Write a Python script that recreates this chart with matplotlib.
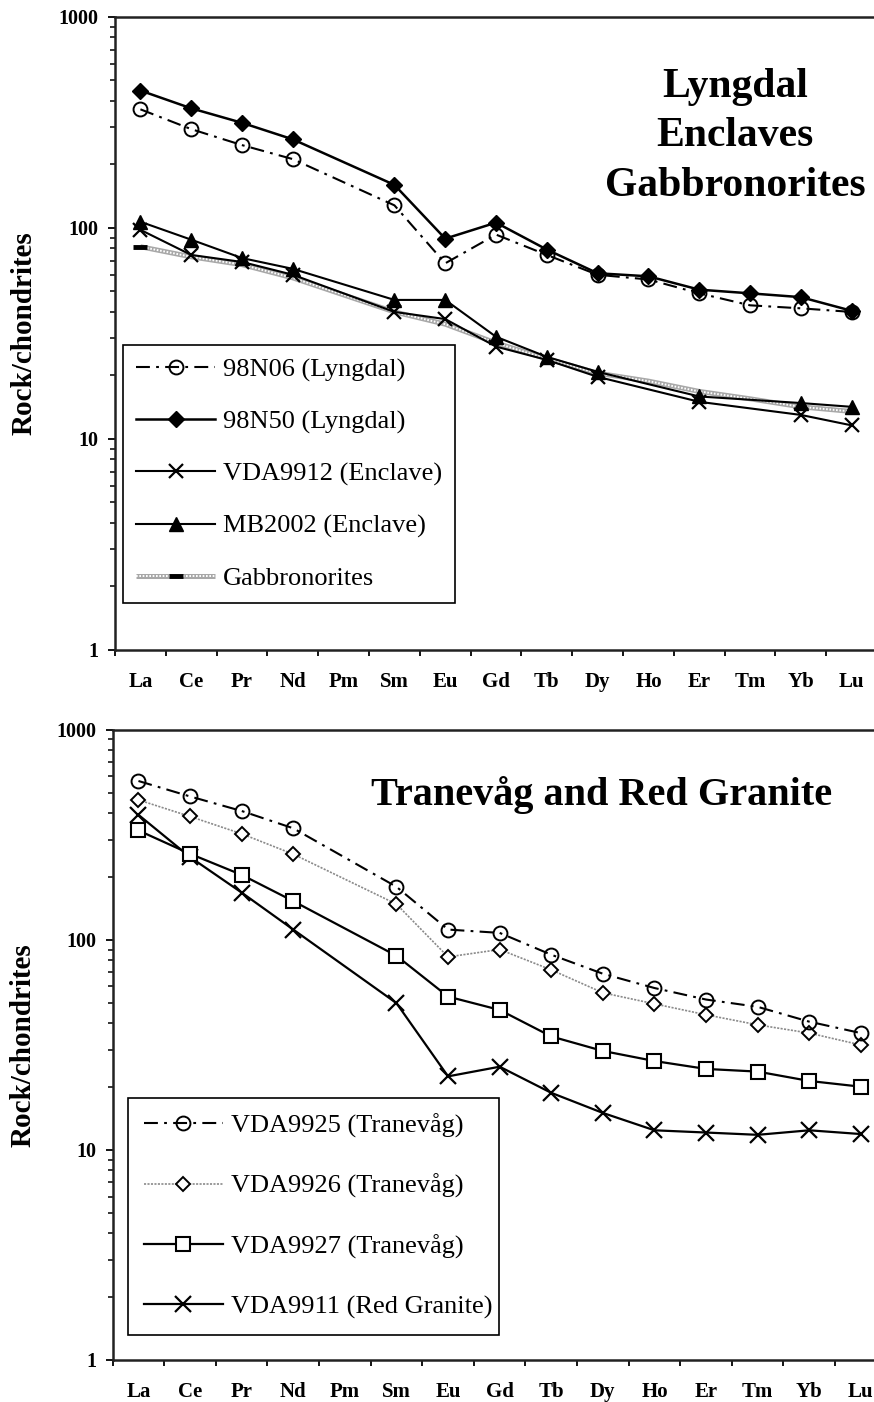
import numpy as np
import matplotlib
matplotlib.use("Agg")
import matplotlib.pyplot as plt
from matplotlib.ticker import LogLocator, NullFormatter

plt.rcParams["font.family"] = ["Liberation Serif", "DejaVu Serif"]
plt.rcParams["lines.scale_dashes"] = False

# Rare earth elements, chondrite-normalised
ree = ["La", "Ce", "Pr", "Nd", "Pm", "Sm", "Eu", "Gd", "Tb", "Dy", "Ho", "Er", "Tm", "Yb", "Lu"]

# Lyngdal / enclaves / gabbronorites
n98n06 = [365, 294, 247, 212, None, 128, 68, 93, 74.5, 60, 57, 49, 43, 41.6, 40]
n98n50 = [448, 369, 315, 263, None, 160, 89, 106, 79, 61, 59, 51, 49, 47, 40.5]
vda9912 = [98, 74.5, 69, 60, None, 40, 37, 27.4, 23.7, 19.7, None, 15, None, 13, 11.6]
mb2002 = [107, 88, 72, 64, None, 45.6, 45.6, 30.5, 24.5, 20.8, None, 15.9, None, 14.8, 14.2]
gabbro = [81.5, 73, 67, 58, None, 40, 35, 28.5, 24, 20.5, 18.8, 16.8, 15.5, 14.2, 13.5]

# Tranevåg and Red Granite
vda9925 = [571, 482, 411, 340, None, 179, 112, 108, 85, 69, 59, 52, 48, 40.8, 36]
vda9926 = [464, 387, 320, 256, None, 148, 83, 90, 72, 56, 49.6, 44, 39.4, 36, 31.6]
vda9927 = [332, 257, 204, 153, None, 84, 53.7, 46.4, 34.7, 29.6, 26.5, 24.3, 23.6, 21.3, 20]
vda9911 = [394, 248, 168, 112, None, 50, 22.4, 24.9, 18.7, 15, 12.4, 12.1, 11.8, 12.4, 11.9]


def xy(vals):
    # skip elements without analyses (Pm etc.), the line joins across them
    pts = [(i, v) for i, v in enumerate(vals) if v is not None]
    return [p[0] for p in pts], [p[1] for p in pts]


def setup(ax, lab_x):
    ax.set_yscale("log")
    ax.set_ylim(1, 1000)
    ax.set_xlim(-0.5, 14.5)
    ax.set_yticks([1, 10, 100, 1000])
    ax.set_yticklabels(["1", "10", "100", "1000"], fontweight="bold", fontsize=14.5)
    ax.yaxis.set_minor_locator(LogLocator(base=10, subs=np.arange(2, 10)))
    ax.yaxis.set_minor_formatter(NullFormatter())
    ax.set_xticks(np.arange(-0.5, 15, 1))
    ax.set_xticklabels([])
    ax.set_xticks(range(len(ree)), minor=True)
    ax.set_xticklabels(ree, minor=True, fontweight="bold", fontsize=15)
    ax.tick_params(axis="x", which="minor", length=0, pad=16)
    ax.tick_params(axis="x", which="major", direction="out", length=4.5, width=1.3)
    ax.tick_params(axis="y", which="major", direction="out", length=5, width=1.3, pad=7)
    ax.tick_params(axis="y", which="minor", direction="out", length=3.5, width=1.1)
    ax.spines["right"].set_visible(False)
    for s in ["top", "left", "bottom"]:
        ax.spines[s].set_linewidth(1.8)
        ax.spines[s].set_color("#222222")
    ax.set_ylabel("Rock/chondrites", fontweight="bold", fontsize=21)
    ax.yaxis.set_label_coords(lab_x, 0.5)


fig = plt.figure(figsize=(8.74, 14.02), dpi=100)
ax1 = fig.add_axes([0.1316, 0.5364, 0.8719, 0.4515])
ax2 = fig.add_axes([0.1289, 0.0300, 0.8856, 0.4494])
setup(ax1, -0.102)
setup(ax2, -0.098)

dashdot = (0, (10, 4.5, 2, 4.5))

# ---- top panel ----
gx, gy = xy(gabbro)
g_base, = ax1.plot(gx, gy, color="#a8a8a8", lw=3.6, solid_capstyle="butt", zorder=2)
g_top, = ax1.plot(gx, gy, color="white", lw=1.4, ls=(0, (1.2, 1.2)), zorder=2.1)
g_mark, = ax1.plot(gx, gy, ls="none", marker="_", ms=10, mew=3.5, color="black",
                   markevery=[0], zorder=2.2)

x, y = xy(vda9912)
h3, = ax1.plot(x, y, color="black", lw=1.5, marker="x", ms=10, mew=1.6, zorder=3)
x, y = xy(mb2002)
h4, = ax1.plot(x, y, color="black", lw=1.5, marker="^", ms=10, zorder=3)
x, y = xy(n98n06)
h1, = ax1.plot(x, y, color="black", lw=1.5, ls=dashdot, marker="o", ms=10,
               mfc="none", mew=1.4, zorder=4)
x, y = xy(n98n50)
h2, = ax1.plot(x, y, color="black", lw=1.8, marker="D", ms=8.5, zorder=4)

ax1.text(0.8136, 0.92, "Lyngdal\nEnclaves\nGabbronorites", transform=ax1.transAxes,
         ha="center", va="top", multialignment="center", fontsize=30,
         fontweight="bold", linespacing=1.4)

leg1 = ax1.legend([h1, h2, h3, h4, (g_base, g_top, g_mark)],
                  ["98N06 (Lyngdal)", "98N50 (Lyngdal)", "VDA9912 (Enclave)",
                   "MB2002 (Enclave)", "Gabbronorites"],
                  loc="lower left", bbox_to_anchor=(0.0105, 0.074, 0.4357, 0.4),
                  mode="expand", borderaxespad=0, fontsize=19, fancybox=False,
                  edgecolor="black", framealpha=1, handlelength=3.0,
                  handletextpad=0.3, labelspacing=1.07, borderpad=0.5)
leg1.get_frame().set_linewidth(1.2)

# ---- bottom panel ----
x, y = xy(vda9911)
k4, = ax2.plot(x, y, color="black", lw=1.6, marker="x", ms=11, mew=1.6, zorder=3)
x, y = xy(vda9927)
k3, = ax2.plot(x, y, color="black", lw=1.6, marker="s", ms=10, mfc="white", mew=1.5, zorder=3)
x, y = xy(vda9926)
k2, = ax2.plot(x, y, color="#8a8a8a", lw=1.2, ls=(0, (1.5, 1)), marker="D", ms=7,
               mfc="white", mec="black", mew=1.4, zorder=4)
x, y = xy(vda9925)
k1, = ax2.plot(x, y, color="black", lw=1.5, ls=dashdot, marker="o", ms=10,
               mfc="none", mew=1.4, zorder=5)

ax2.text(0.6315, 0.881, "Tranevåg and Red Granite", transform=ax2.transAxes,
         ha="center", va="baseline", fontsize=29, fontweight="bold")

leg2 = ax2.legend([k1, k2, k3, k4],
                  ["VDA9925 (Tranevåg)", "VDA9926 (Tranevåg)", "VDA9927 (Tranevåg)",
                   "VDA9911 (Red Granite)"],
                  loc="lower left", bbox_to_anchor=(0.0198, 0.0397, 0.479, 0.4),
                  mode="expand", borderaxespad=0, fontsize=19, fancybox=False,
                  edgecolor="black", framealpha=1, handlelength=3.0,
                  handletextpad=0.3, labelspacing=1.37, borderpad=0.6)
leg2.get_frame().set_linewidth(1.2)

fig.savefig("out.png", dpi=100)
